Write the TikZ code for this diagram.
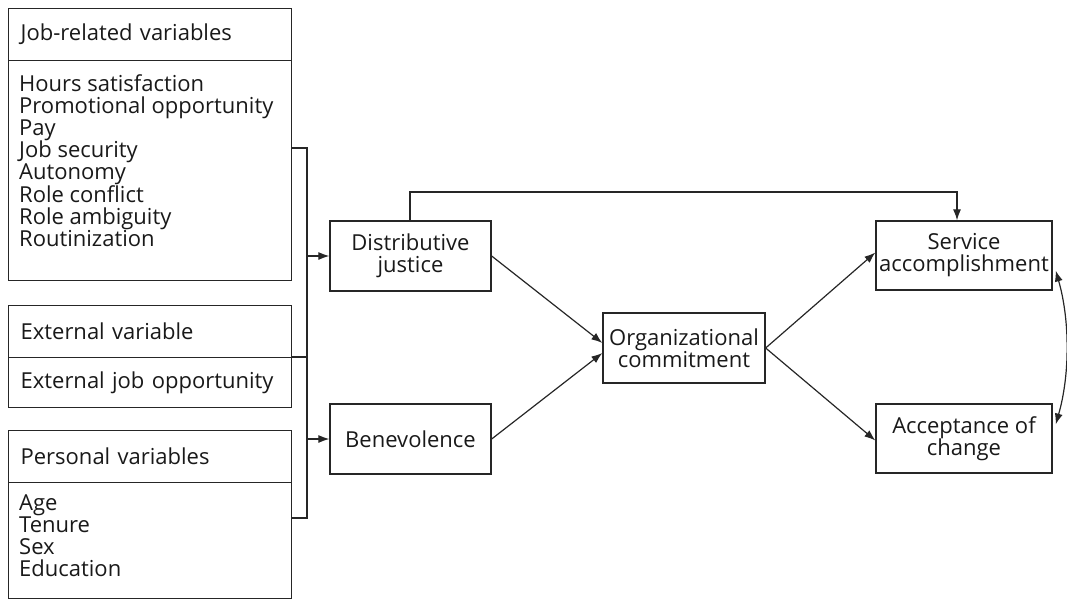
\documentclass[tikz,border=0pt]{standalone}
\usepackage{fontspec}
\setmainfont{Open Sans}
\usetikzlibrary{arrows.meta}
\begin{document}
\begin{tikzpicture}[x=1pt,y=-1pt,
  every node/.style={font=\fontsize{22}{22}\selectfont, text=black!90},
  box/.style={draw=black!85, line width=1.3pt, inner sep=0pt, align=center},
  hdr/.style={draw=black!85, line width=1.3pt, inner sep=0pt, inner xsep=12pt, text width=259pt, align=left, minimum width=283pt},
  lst/.style={inner sep=0pt, align=left, anchor=north west},
  conn/.style={draw=black!85, line width=1.2pt},
  arr/.style={conn, -{Latex[length=11pt,width=8pt]}}
]
\useasboundingbox (0,0) rectangle (1067,599);

% Job-related variables
\node[hdr, anchor=north west, minimum height=52pt] (jobhead) at (8,8) {Job-related variables};
\node[draw=black!85, line width=1.3pt, anchor=north west, minimum width=283pt, minimum height=220pt, inner sep=0pt] (jobbody) at (8,60) {};
\node[lst] (joblist) at (19,74) {Hours satisfaction\\Promotional opportunity\\Pay\\Job security\\Autonomy\\Role conflict\\Role ambiguity\\Routinization};

% External variable
\node[hdr, anchor=north west, minimum height=52pt] (exthead) at (8,305) {External variable};
\node[hdr, anchor=north west, minimum height=50pt] (extbody) at (8,357) {External job opportunity};

% Personal variables
\node[hdr, anchor=north west, minimum height=52pt] (perhead) at (8,430) {Personal variables};
\node[draw=black!85, line width=1.3pt, anchor=north west, minimum width=283pt, minimum height=116pt, inner sep=0pt] (perbody) at (8,482) {};
\node[lst] (perlist) at (19,495) {Age\\Tenure\\Sex\\Education};

% Middle / right boxes
\node[box, minimum width=161pt, minimum height=70pt] (dist) at (410.5,256) {Distributive\\justice};
\node[box, minimum width=161pt, minimum height=70pt] (bene) at (410.5,439) {Benevolence};
\node[box, minimum width=162pt, minimum height=70pt] (org) at (684,348) {Organizational\\commitment};
\node[box, minimum width=176pt, minimum height=69pt] (serv) at (964,255.5) {Service\\accomplishment};
\node[box, minimum width=176pt, minimum height=69pt] (acc) at (964,438.5) {Acceptance of\\change};

% Bracket
\coordinate (bt) at (307,148);
\coordinate (bb) at (307,518);
\draw[conn] (jobbody.east |- bt) -- (bt) -- (bb) -- (perbody.east |- bb);
\draw[conn] (extbody.north east) -- (extbody.north east -| bt);
\draw[arr] (bt |- dist.west) -- (dist.west);
\draw[arr] (bt |- bene.west) -- (bene.west);

% Top connector
\coordinate (tl) at (410,192);
\coordinate (tr) at (957,192);
\draw[arr] (dist.north -| tl) -- (tl) -- (tr) -- (tr |- serv.north);

% Diagonal arrows
\draw[arr] (dist.east) -- ([yshift=5pt]org.west);
\draw[arr] (bene.east) -- ([yshift=-5pt]org.west);
\draw[arr] (org.east) -- ([yshift=3pt]serv.west);
\draw[arr] (org.east) -- ([yshift=-2pt]acc.west);

% Curved double arrow
\draw[conn, {Latex[length=11pt,width=8pt]}-{Latex[length=11pt,width=8pt]}]
  ([xshift=3pt,yshift=-15pt]serv.east) .. controls (1070,320) and (1070,375) .. ([xshift=3pt,yshift=14pt]acc.east);
\end{tikzpicture}
\end{document}
